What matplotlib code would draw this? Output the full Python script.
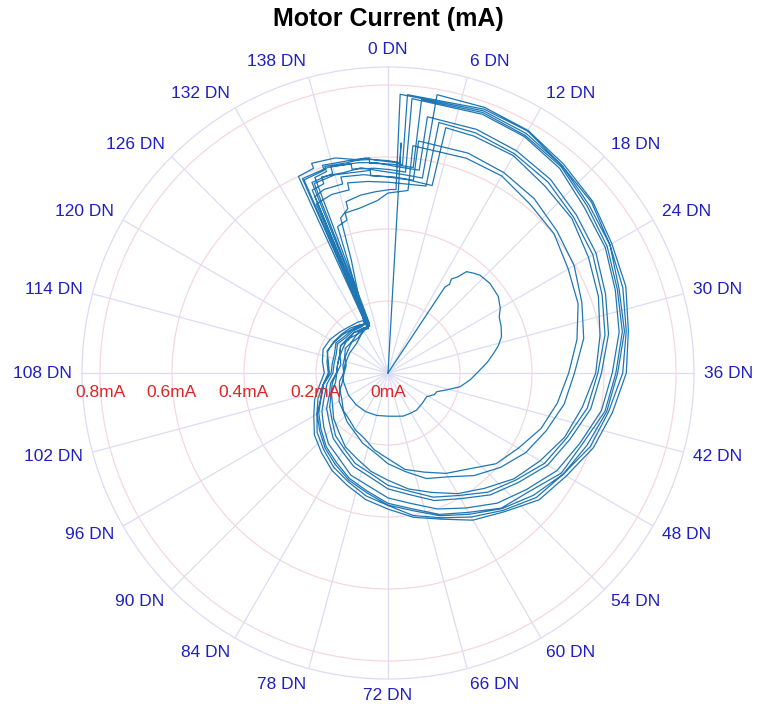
import numpy as np
import matplotlib
matplotlib.use("Agg")
import matplotlib.pyplot as plt
import matplotlib.transforms as mtransforms

plt.rcParams['font.family'] = ['Liberation Sans', 'DejaVu Sans']

# encoder counts per revolution (DN), radial axis
DN_PER_REV = 144
theta_tick_dn = list(range(0, 144, 6))
r_ticks = [0.2, 0.4, 0.6, 0.8]
r_tick_labels = ["0mA", "0.2mA", "0.4mA", "0.6mA", "0.8mA"]
r_max = 0.85

# first (partial) revolution: starts at the centre
blob_dn = [13.4, 13.4, 13.9, 13.6, 14.4, 15.1, 16.2, 17.3, 19.5, 22.1, 24.0, 25.3, 27.0,
           28.9, 30.5, 31.8, 33.5, 35.2, 37.8, 40.3, 42.4, 44.4, 46.0, 48.6, 52.5,
           56.9, 60.5, 64.2, 68.0, 72.0, 78.0, 84.0, 90.0, 96.4, 103.6, 108.0, 113.0,
           119.0, 125.4, 130.0, 134.0, 135.8]
blob_ma = [0.0, 0.286, 0.30, 0.315, 0.33, 0.356, 0.365, 0.373, 0.377, 0.373, 0.36, 0.346, 0.34,
           0.331, 0.315, 0.298, 0.278, 0.256, 0.23, 0.204, 0.17, 0.145, 0.142, 0.126, 0.127,
           0.13, 0.128, 0.127, 0.122, 0.12, 0.122, 0.124, 0.125, 0.126, 0.126, 0.124, 0.122,
           0.12, 0.12, 0.13, 0.14, 0.147]

# smooth part of every full revolution (DN within the turn)
grid_dn = [8, 12, 16, 20, 24, 28, 32, 36, 40, 44, 48, 52, 56, 60, 64, 68, 72, 76, 80, 84,
           88, 92, 96, 100, 104, 108, 112, 116, 120, 124, 128, 132]
turn1 = [0.780, 0.776, 0.752, 0.738, 0.712, 0.694, 0.672, 0.652, 0.622, 0.598, 0.562, 0.538, 0.498, 0.462, 0.428, 0.402,
         0.368, 0.347, 0.322, 0.302, 0.278, 0.257, 0.228, 0.207, 0.183, 0.166, 0.172, 0.178, 0.174, 0.168, 0.163, 0.155]
turn2 = [0.770, 0.762, 0.748, 0.722, 0.703, 0.678, 0.661, 0.633, 0.612, 0.575, 0.556, 0.512, 0.490, 0.447, 0.418, 0.383,
         0.362, 0.333, 0.312, 0.287, 0.267, 0.243, 0.222, 0.198, 0.182, 0.158, 0.157, 0.158, 0.167, 0.158, 0.156, 0.150]
turn3 = [0.785, 0.778, 0.758, 0.742, 0.718, 0.703, 0.678, 0.662, 0.633, 0.607, 0.572, 0.548, 0.503, 0.472, 0.432, 0.407,
         0.378, 0.357, 0.332, 0.312, 0.288, 0.267, 0.238, 0.217, 0.193, 0.177, 0.185, 0.192, 0.186, 0.176, 0.168, 0.164]
turn4 = [0.765, 0.758, 0.742, 0.713, 0.697, 0.672, 0.652, 0.623, 0.602, 0.568, 0.542, 0.503, 0.472, 0.433, 0.402, 0.368,
         0.347, 0.318, 0.302, 0.273, 0.257, 0.233, 0.212, 0.188, 0.172, 0.153, 0.152, 0.153, 0.162, 0.153, 0.152, 0.148]
turn5 = [0.775, 0.768, 0.752, 0.728, 0.712, 0.683, 0.667, 0.638, 0.617, 0.588, 0.562, 0.528, 0.492, 0.453, 0.422, 0.388,
         0.367, 0.338, 0.317, 0.293, 0.272, 0.248, 0.227, 0.198, 0.182, 0.163, 0.168, 0.180, 0.172, 0.165, 0.158, 0.153]
turn6 = [0.720, 0.713, 0.702, 0.683, 0.667, 0.643, 0.622, 0.593, 0.572, 0.538, 0.512, 0.473, 0.442, 0.403, 0.377, 0.343,
         0.322, 0.293, 0.277, 0.253, 0.237, 0.213, 0.197, 0.173, 0.162, 0.143, 0.142, 0.143, 0.152, 0.148, 0.147, 0.143]
turn7 = [0.700, 0.697, 0.678, 0.667, 0.643, 0.622, 0.598, 0.577, 0.548, 0.522, 0.488, 0.457, 0.418, 0.387, 0.353, 0.327,
         0.298, 0.277, 0.253, 0.237, 0.213, 0.197, 0.178, 0.167, 0.148, 0.142, 0.133, 0.142, 0.143, 0.147, 0.138, 0.142]
turn8 = [0.710, 0.703, 0.692, 0.673, 0.657, 0.633, 0.612, 0.583, 0.562, 0.528, 0.502, 0.463, 0.432, 0.393, 0.367, 0.333,
         0.312, 0.283, 0.267, 0.243, 0.227, 0.203, 0.187, 0.168, 0.157, 0.143, 0.142, 0.143, 0.152, 0.143, 0.147, 0.138]
turn9 = [0.650, 0.643, 0.632, 0.613, 0.597, 0.573, 0.552, 0.518, 0.497, 0.468, 0.442, 0.408, 0.372, 0.333, 0.312, 0.278,
         0.252, 0.223, 0.207, 0.188, 0.177, 0.163, 0.157, 0.143, 0.137, 0.123, 0.127, 0.128, 0.137, 0.133, 0.137, 0.138]
turn10 = [0.635, 0.632, 0.613, 0.602, 0.578, 0.562, 0.533, 0.502, 0.478, 0.452, 0.418, 0.392, 0.348, 0.322, 0.293, 0.272,
          0.238, 0.217, 0.193, 0.182, 0.168, 0.162, 0.148, 0.142, 0.128, 0.122, 0.118, 0.127, 0.128, 0.132, 0.128, 0.137]
turns = [turn1, turn2, turn3, turn4, turn5, turn6, turn7, turn8, turn9, turn10]

# current jump near 135 DN and staircase up to the step near 0 DN (DN, mA), one per turn change
stairs = [
    [(135.8, 0.58), (137.2, 0.585), (137.2, 0.60), (139.6, 0.595), (141.5, 0.60), (143.2, 0.59), (144.8, 0.585), (145.6, 0.58), (145.6, 0.775)],
    [(134.2, 0.15), (134.2, 0.60), (136.0, 0.605), (136.0, 0.62), (138.5, 0.615), (140.5, 0.60), (142.0, 0.60), (142.0, 0.585), (144.5, 0.58), (146.8, 0.575), (146.8, 0.765)],
    [(135.0, 0.15), (135.0, 0.55), (136.5, 0.555), (136.5, 0.575), (139.0, 0.57), (141.0, 0.575), (143.5, 0.56), (145.0, 0.555), (148.0, 0.55), (148.0, 0.785)],
    [(134.5, 0.16), (134.5, 0.59), (137.5, 0.595), (140.0, 0.59), (140.0, 0.575), (142.5, 0.57), (144.2, 0.565), (146.0, 0.56), (146.0, 0.765)],
    [(133.6, 0.15), (136.8, 0.33), (137.2, 0.45), (138.5, 0.47), (138.5, 0.49), (140.5, 0.50), (142.5, 0.505), (144.4, 0.51), (145.0, 0.51), (145.0, 0.775)],
    [(135.3, 0.15), (135.3, 0.57), (137.8, 0.575), (137.8, 0.595), (140.8, 0.59), (142.8, 0.585), (144.6, 0.575), (147.5, 0.57), (147.5, 0.72)],
    [(135.0, 0.14), (135.0, 0.53), (136.3, 0.54), (138.6, 0.54), (138.6, 0.56), (141.2, 0.555), (143.8, 0.545), (146.2, 0.54), (149.3, 0.535), (149.3, 0.70)],
    [(134.8, 0.14), (134.8, 0.51), (137.0, 0.52), (139.2, 0.52), (139.2, 0.54), (141.6, 0.535), (144.0, 0.53), (148.6, 0.53), (148.6, 0.71)],
    [(135.5, 0.14), (135.5, 0.565), (138.0, 0.57), (140.2, 0.565), (142.0, 0.565), (142.0, 0.55), (144.6, 0.545), (147.0, 0.54), (147.0, 0.65)],
    [(134.0, 0.14), (136.0, 0.30), (136.4, 0.43), (138.0, 0.44), (138.0, 0.46), (140.2, 0.465), (142.6, 0.48), (144.0, 0.50), (146.5, 0.51), (146.5, 0.635)],
    [(134.6, 0.135), (134.6, 0.585), (137.0, 0.59), (137.0, 0.605), (139.8, 0.60), (142.2, 0.595), (144.0, 0.59), (145.3, 0.585), (145.3, 0.64), (145.3, 0.0)],
]

# —— 拼成一条连续曲线（角度展开，不回绕） —— #
dn = list(blob_dn)
ma = list(blob_ma)
for k, st in enumerate(stairs):
    off = DN_PER_REV * k
    dn += [d + off for d, _ in st]
    ma += [m for _, m in st]
    if k < len(turns):
        dn += [d + off + DN_PER_REV for d in grid_dn]
        ma += turns[k]
theta = np.array(dn) * 2 * np.pi / DN_PER_REV

W, H, DPI = 758, 715, 100
cx, cy, R = 388, 373, 306
fig = plt.figure(figsize=(W / DPI, H / DPI), dpi=DPI)
ax = fig.add_axes([(cx - R) / W, (H - cy - R) / H, 2 * R / W, 2 * R / H], projection='polar')
ax.set_theta_zero_location('N')
ax.set_theta_direction(-1)
ax.set_ylim(0, r_max)
ax.set_xticks(np.deg2rad([d * 360 / DN_PER_REV for d in theta_tick_dn]))
ax.set_xticklabels([])
ax.set_yticks(r_ticks)
ax.set_yticklabels([])
ax.tick_params(length=0)
ax.xaxis.grid(True, color='#dcdcf3', lw=0.9)
ax.yaxis.grid(True, color='#f4d8de', lw=0.9)
ax.spines['polar'].set_color('#dcdcf3')
ax.spines['polar'].set_linewidth(0.9)
ax.set_axisbelow(True)

ax.plot(theta, ma, color='#1f77b4', lw=0.9)

# angular labels: near edge sits ~10 px outside the rim
for d in theta_tick_dn:
    a = np.deg2rad(d * 360 / DN_PER_REV)
    s, c = np.sin(a), np.cos(a)
    ha = 'left' if s > 0.1 else ('right' if s < -0.1 else 'center')
    tr = mtransforms.offset_copy(ax.transData, fig=fig, x=10 * s, y=10 * c + 7 * c, units='dots')
    ax.text(a, r_max, f"{d} DN", transform=tr, ha=ha, va='center',
            color='#1f1fc4', fontsize=12.5, clip_on=False)

# radial labels along the 108 DN direction, just under the axis line
for r, lab in zip([0.0] + r_ticks, r_tick_labels):
    tr = mtransforms.offset_copy(ax.transData, fig=fig, x=0, y=-19.5, units='dots')
    ax.text(np.deg2rad(270), r, lab, transform=tr, ha='center', va='center',
            color='#e02424', fontsize=12.5, clip_on=False)

fig.text(cx / W, 1 - 19 / H, "Motor Current (mA)", ha='center', va='center',
         fontsize=18, fontweight='bold', color='black')

fig.savefig("out.png", dpi=DPI)
